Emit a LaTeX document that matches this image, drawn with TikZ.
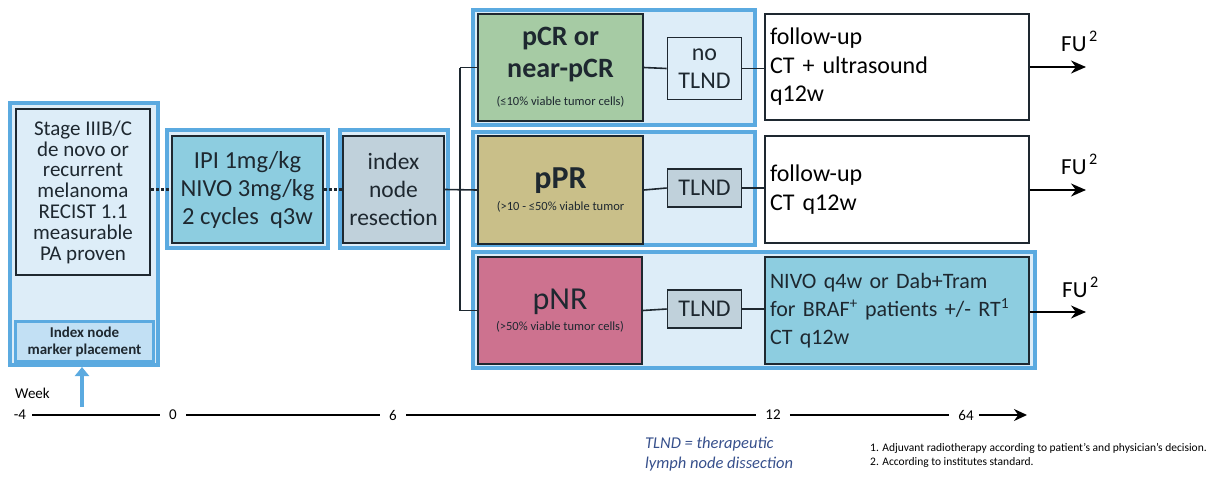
\documentclass[tikz,border=0pt]{standalone}
\usepackage{fontspec}
\setmainfont{Carlito}
\usetikzlibrary{arrows.meta}
\definecolor{bframe}{RGB}{91,170,224}
\definecolor{lightbg}{RGB}{221,237,248}
\definecolor{markbg}{RGB}{194,224,244}
\definecolor{tealbg}{RGB}{141,205,224}
\definecolor{greybg}{RGB}{192,209,219}
\definecolor{greenbg}{RGB}{166,203,164}
\definecolor{khakibg}{RGB}{201,191,137}
\definecolor{pinkbg}{RGB}{205,114,143}
\definecolor{darkb}{RGB}{30,40,48}
\definecolor{legblue}{RGB}{55,80,140}
\tikzset{
  bframe/.style={draw=bframe, line width=4pt, fill=lightbg, inner sep=0pt},
  dbox/.style={draw=darkb, line width=1.6pt, inner sep=2pt, align=center, text=darkb},
  conn/.style={draw=darkb, line width=1.6pt},
  dconn/.style={draw=darkb, line width=2.2pt, dash pattern=on 3pt off 2pt},
  farrow/.style={draw=black, line width=1.8pt, -{Stealth[length=15pt,width=13pt]}},
  tl/.style={draw=black, line width=1.8pt},
  tnum/.style={font=\fontsize{15}{17}\selectfont, inner sep=1pt},
  fu/.style={font=\fontsize{23}{25}\selectfont, inner sep=0pt}
}
\newcommand{\bigf}{\fontsize{28}{32}\selectfont\bfseries}
\newcommand{\hugef}{\fontsize{32}{34}\selectfont}
\newcommand{\smallf}{\fontsize{12.5}{14}\selectfont\mdseries}
\begin{document}
\begin{tikzpicture}[x=1pt,y=-1pt]
\useasboundingbox (0,0) rectangle (1219,477);

% left column
\node[bframe, minimum width=148pt, minimum height=262pt] (fL) at (84,234) {};
\node[dbox, fill=lightbg, minimum width=134pt, minimum height=166pt,
      font=\fontsize{21}{20.8}\selectfont] (stage) at (83,192)
  {Stage IIIB/C\\de novo or\\recurrent\\melanoma\\RECIST 1.1\\measurable\\PA proven};
\node[draw=bframe, line width=3pt, fill=markbg, minimum width=138pt, minimum height=40pt,
      align=center, inner sep=0pt, text=darkb, font=\fontsize{15}{17}\selectfont\bfseries] (mark) at (84.5,341.5)
  {Index node\\marker placement};
\coordinate (abot) at (82,407);
\draw[draw=bframe, line width=4pt, -{Triangle[length=9pt,width=14pt]}] (abot) -- (fL.south -| abot);

% IPI
\node[bframe, minimum width=161pt, minimum height=118pt] (fIPI) at (247.5,189) {};
\node[dbox, fill=tealbg, minimum width=151pt, minimum height=107pt,
      font=\fontsize{24.5}{28}\selectfont] (ipi) at (247.5,189.5)
  {IPI 1mg/kg\\NIVO 3mg/kg\\2 cycles\ \ q3w};
% resection
\node[bframe, minimum width=108pt, minimum height=118pt] (fres) at (394,189) {};
\node[dbox, fill=greybg, minimum width=101pt, minimum height=107pt,
      font=\fontsize{23.5}{28}\selectfont] (res) at (393.5,189.5)
  {index\\node\\resection};

% outcome frames
\node[bframe, minimum width=282pt, minimum height=115pt] (fpcr) at (614,67.5) {};
\node[bframe, minimum width=282pt, minimum height=113pt] (fppr) at (614,188.5) {};
\node[bframe, minimum width=562pt, minimum height=116pt] (fpnr) at (754,310) {};

\node[dbox, fill=greenbg, minimum width=165pt, minimum height=107pt, font=\bigf] (pcr) at (560.5,67.5)
  {pCR or\\near-pCR\\[-4pt]\smallf(≤10\% viable tumor cells)};
\node[dbox, fill=khakibg, minimum width=165pt, minimum height=108pt] (ppr) at (560.5,190)
  {\hugef\bfseries pPR\\[6pt]\smallf(>10 - ≤50\% viable tumor};
\node[dbox, fill=pinkbg, minimum width=164pt, minimum height=107pt] (pnr) at (560,310.5)
  {\hugef pNR\\[6pt]\smallf(>50\% viable tumor cells)};

\node[dbox, fill=lightbg, minimum width=74pt, minimum height=62pt,
      font=\fontsize{24}{28}\selectfont] (t1) at (704.5,68.5) {no\\TLND};
\node[dbox, fill=greybg, minimum width=74pt, minimum height=38pt,
      font=\fontsize{24}{26}\selectfont] (t2) at (704.5,188) {TLND};
\node[dbox, fill=greybg, minimum width=74pt, minimum height=38pt,
      font=\fontsize{24}{26}\selectfont] (t3) at (704.5,309) {TLND};

\node[dbox, fill=white, text=black, minimum width=264pt, minimum height=106pt, text width=254pt,
      align=left, font=\fontsize{24}{28.5}\selectfont] (fu1) at (897,67)
  {follow-up\\CT + ultrasound\\q12w};
\node[dbox, fill=white, text=black, minimum width=264pt, minimum height=107pt, text width=254pt,
      align=left, font=\fontsize{24}{28.5}\selectfont] (fu2) at (897,189.5)
  {follow-up\\CT q12w};
\node[dbox, fill=tealbg, minimum width=264pt, minimum height=107pt, text width=254pt,
      align=left, font=\fontsize{22}{28}\selectfont] (nivo) at (897,310.5)
  {NIVO q4w or Dab+Tram\\for BRAF\textsuperscript{+} patients +/- RT\textsuperscript{1}\\CT q12w};

% connectors
\draw[dconn] (stage.east |- ipi.west) -- (ipi.west);
\draw[dconn] (ipi.east) -- (res.west);
\coordinate (br) at (460,190);
\draw[conn] (res.east) -- (ppr.west);
\draw[conn] (br |- pcr.west) -- (br |- pnr.west);
\draw[conn] (br |- pcr.west) -- (pcr.west);
\draw[conn] (br |- pnr.west) -- (pnr.west);
\draw[conn] (pcr.east) -- (t1.west);
\draw[conn] (ppr.east) -- (t2.west);
\draw[conn] (pnr.east) -- (t3.west);
\draw[conn] (t1.east) -- (fu1.west |- t1.east);
\draw[conn] (t2.east) -- (fu2.west |- t2.east);
\draw[conn] (t3.east) -- (nivo.west |- t3.east);

% FU arrows
\coordinate (e1) at (1086,67);
\coordinate (e2) at (1086,190);
\coordinate (e3) at (1086,312);
\draw[farrow] (fu1.east |- e1) -- (e1);
\draw[farrow] (fu2.east |- e2) -- (e2);
\draw[farrow] (nivo.east |- e3) -- (e3);
\node[fu, anchor=base west] (fuA) at (1061,51) {FU\textsuperscript{\,2}};
\node[fu, anchor=base west] (fuB) at (1061,174) {FU\textsuperscript{\,2}};
\node[fu, anchor=base west] (fuC) at (1062,297) {FU\textsuperscript{\,2}};

% timeline
\node[tnum, anchor=base west] (week) at (14,398) {Week};
\node[tnum] (w1) at (20,415) {-4};
\node[tnum] (w2) at (173,415) {0};
\node[tnum] (w3) at (393,415) {6};
\node[tnum] (w4) at (773,415) {12};
\node[tnum] (w5) at (966,415) {64};
\coordinate (tend) at (1027,415);
\draw[tl] ([xshift=5pt]w1.east) -- ([xshift=-8pt]w2.west);
\draw[tl] ([xshift=8pt]w2.east) -- ([xshift=-8pt]w3.west);
\draw[tl] ([xshift=8pt]w3.east) -- ([xshift=-8pt]w4.west);
\draw[tl] ([xshift=8pt]w4.east) -- ([xshift=-8pt]w5.west);
\draw[tl, -{Stealth[length=13pt,width=12pt]}] ([xshift=4pt]w5.east) -- (tend);

% legends
\node[anchor=north west, align=left, text=legblue, inner sep=0pt,
      font=\fontsize{16.5}{20}\selectfont\itshape] (leg) at (645,437)
  {TLND = therapeutic\\lymph node dissection};
\node[anchor=north west, align=left, inner sep=0pt,
      font=\fontsize{11.5}{14}\selectfont] (notes) at (870,443)
  {1. Adjuvant radiotherapy according to patient’s and physician’s decision.\\2. According to institutes standard.};
\end{tikzpicture}
\end{document}
